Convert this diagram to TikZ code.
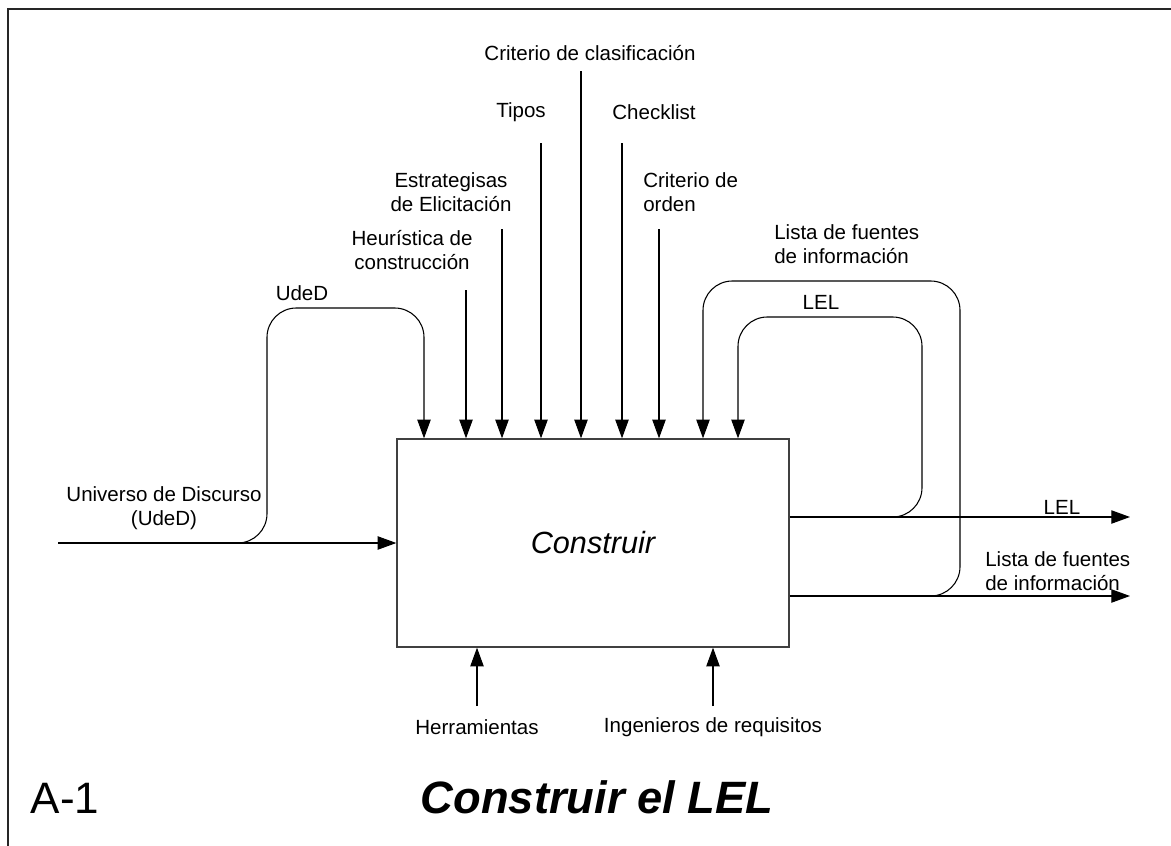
\documentclass[tikz,border=0pt]{standalone}
\usepackage{fontspec}
\setmainfont{Liberation Sans}
\usetikzlibrary{arrows.meta}
\tikzset{
	>={Triangle[length=14pt, width=10pt]}, % Punta de flecha rellena
	flujo/.style={->, line width=0.8pt}, % Flechas entre textos y la caja
	etiq/.style={inner sep=0pt, align=center, font=\fontsize{15.4}{18}\selectfont}, % Textos de las flechas
	actividad/.style={draw=black!75, line width=1pt, minimum width=294pt, minimum height=156pt, font=\fontsize{23}{27}\selectfont\itshape} % Caja de la actividad
}

\begin{document}
\begin{tikzpicture}[x=0.75pt, y=-0.75pt]
	\useasboundingbox (0,0) rectangle (1171,846);
	\draw[line width=1.5pt, black!85] (8,846) |- (1171,9);

	\node[actividad] (a1) at (593,543) {Construir};

	% entrada y su lazo
	\coordinate (ent) at (58,543);
	\coordinate (ent1) at (215,543);
	\coordinate (ent2) at (267,308);
	\coordinate (ent3) at (424,308);
	\draw[flujo] (ent) -- (ent -| a1.west);
	\draw[flujo, rounded corners=22] (ent1) -| (ent2) -- (ent3) -- (ent3 |- a1.north);
	\node[etiq] (univ) at (164,508) {Universo de Discurso\\(UdeD)};
	\node[etiq] (uded) at (302,293) {UdeD};

	% controles
	\foreach \x/\y/\n in {466/290/heur, 502/229/estr, 541/143/tipos, 581/71/clas, 622/143/check, 659/229/orden}
		\draw[flujo] (\x,\y) coordinate (\n) -- (\n |- a1.north);
	\node[etiq] (lheur) at (412,250.5) {Heurística de\\construcción};
	\node[etiq] (lestr) at (451,192.5) {Estrategisas\\de Elicitación};
	\node[etiq] (ltipos) at (521,112) {Tipos};
	\node[etiq] (lclas) at (590,53) {Criterio de clasificación};
	\node[etiq] (lcheck) at (654,112) {Checklist};
	\node[etiq, align=left, anchor=west] (lorden) at (643,192.5) {Criterio de\\orden};

	% salidas
	\coordinate (sal1) at (1130,517);
	\coordinate (sal2) at (1130,596);
	\draw[flujo] (sal1 -| a1.east) -- (sal1);
	\draw[flujo] (sal2 -| a1.east) -- (sal2);
	\node[etiq] (lsal1) at (1062,507) {LEL};
	\node[etiq, align=left, anchor=west] (lsal2) at (985,571.5) {Lista de fuentes\\de información};

	% lazos de las salidas
	\coordinate (lel0) at (843,517);
	\coordinate (lel1) at (922,317);
	\coordinate (lel2) at (738,317);
	\draw[flujo, rounded corners=22] (lel0) -| (lel1) -- (lel2) -- (lel2 |- a1.north);
	\coordinate (lis0) at (852,596);
	\coordinate (lis1) at (960,281);
	\coordinate (lis2) at (703,281);
	\draw[flujo, rounded corners=22] (lis0) -| (lis1) -- (lis2) -- (lis2 |- a1.north);
	\node[etiq] (llel) at (821,302) {LEL};
	\node[etiq, align=left, anchor=west] (llis) at (774,244) {Lista de fuentes\\de información};

	% mecanismos
	\foreach \x/\n in {477/herr, 713/ing}
		\draw[flujo] (\x,706) coordinate (\n) -- (\n |- a1.south);
	\node[etiq] (lherr) at (477,727) {Herramientas};
	\node[etiq] (ling) at (713,727) {Ingenieros de requisitos};

	% titulo
	\node[font=\fontsize{33}{38}\selectfont, anchor=base] (cod) at (65,813) {A-1};
	\node[font=\fontsize{34}{40}\selectfont\bfseries\itshape, anchor=base] (titulo) at (597,813) {Construir el LEL};
\end{tikzpicture}
\end{document}
